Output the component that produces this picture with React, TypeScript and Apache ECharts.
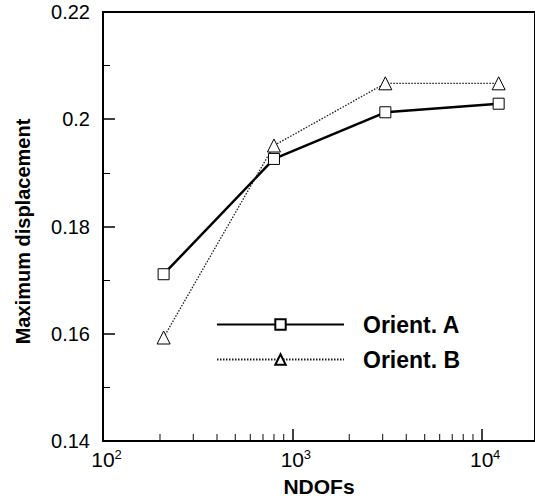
import React, { useEffect, useRef } from "react";
import * as echarts from "echarts";

const ndofs = [209, 800, 3100, 12300];
const orientA = [0.1711, 0.1926, 0.2013, 0.2029];
const orientB = [0.1593, 0.1951, 0.2067, 0.2067];
const seriesNames = ["Orient. A", "Orient. B"];
const xMinorTicks = [200, 300, 400, 500, 600, 700, 800, 900, 2000, 3000, 4000, 5000, 6000, 7000, 8000, 9000];
const yMin = 0.14;
const yMax = 0.22;
const yStep = 0.02;
const xMin = 100;
const xMax = 19140;

function exponentOf(v: number): number | null {
  const l = Math.log10(v);
  const e = Math.round(l);
  return Math.abs(l - e) > 1e-6 ? null : e;
}

export default function App() {
  const ref = useRef<HTMLDivElement>(null);
  useEffect(() => {
    if (!ref.current) return;
    const chart = echarts.init(ref.current, null, { renderer: "svg" });
    const font = "'Liberation Sans', Arial, Helvetica, sans-serif";
    const baseX = {
      type: "log",
      logBase: 10,
      min: xMin,
      max: xMax,
      splitLine: { show: false },
      minorTick: { show: false },
    };
    chart.setOption({
      animation: false,
      backgroundColor: "#fff",
      textStyle: { fontFamily: font, color: "#000" },
      grid: {
        left: 103,
        right: -5,
        top: 12,
        bottom: 60,
        show: true,
        borderColor: "#000",
        borderWidth: 2,
        backgroundColor: "transparent",
      },
      legend: {
        orient: "vertical",
        left: 216,
        top: 313,
        padding: 0,
        itemWidth: 127,
        itemHeight: 13,
        itemGap: 12,
        data: seriesNames,
        textStyle: {
          fontFamily: font,
          fontSize: 23,
          fontWeight: "bold",
          color: "#000",
          padding: [0, 0, 0, 14],
        },
      },
      xAxis: [
        {
          ...baseX,
          name: "NDOFs",
          nameLocation: "middle",
          nameGap: 35,
          nameTextStyle: { fontFamily: font, fontSize: 21, fontWeight: "bold", color: "#000" },
          axisLine: { lineStyle: { color: "#000", width: 2 } },
          axisTick: { show: true, inside: true, length: 12, lineStyle: { color: "#000", width: 1.5 } },
          axisLabel: {
            margin: 8,
            showMaxLabel: false,
            fontFamily: font,
            fontSize: 21,
            color: "#000",
            formatter: (v: number) => (exponentOf(v) === null ? "" : "10"),
          },
        },
        {
          ...baseX,
          position: "bottom",
          axisLine: { show: false },
          axisTick: { show: false },
          axisLabel: {
            margin: 7,
            showMaxLabel: false,
            fontFamily: font,
            fontSize: 13,
            color: "#000",
            padding: [0, 0, 0, 30],
            formatter: (v: number) => {
              const e = exponentOf(v);
              return e === null ? "" : String(e);
            },
          },
        },
      ],
      yAxis: {
        type: "value",
        min: yMin,
        max: yMax,
        interval: yStep,
        name: "Maximum displacement",
        nameLocation: "middle",
        nameGap: 70,
        nameTextStyle: {
          fontFamily: font,
          fontSize: 20,
          fontWeight: "bold",
          color: "#000",
          padding: [0, 10, 0, 0],
        },
        axisLine: { show: true, lineStyle: { color: "#000", width: 2 } },
        axisTick: { show: true, inside: true, length: 12, lineStyle: { color: "#000", width: 1.5 } },
        minorTick: { show: true, splitNumber: 2, length: 7, lineStyle: { color: "#000", width: 1 } },
        splitLine: { show: false },
        axisLabel: {
          margin: 13,
          fontFamily: font,
          fontSize: 20,
          color: "#000",
          formatter: (v: number) => String(parseFloat(v.toFixed(2))),
        },
      },
      series: [
        {
          name: seriesNames[0],
          type: "line",
          data: ndofs.map((x, i) => [x, orientA[i]]),
          symbol: "rect",
          symbolSize: 11,
          showAllSymbol: true,
          lineStyle: { color: "#000", width: 2.5 },
          itemStyle: { color: "#fff", borderColor: "#000", borderWidth: 1 },
          z: 3,
        },
        {
          name: seriesNames[1],
          type: "line",
          data: ndofs.map((x, i) => [x, orientB[i]]),
          symbol: "triangle",
          symbolSize: 13,
          showAllSymbol: true,
          lineStyle: { color: "#1a1a1a", width: 1.3, type: [1.5, 1.5] },
          itemStyle: { color: "#fff", borderColor: "#000", borderWidth: 1 },
          z: 3,
        },
        {
          name: "minorTicks",
          type: "scatter",
          data: xMinorTicks.map((x) => [x, yMin]),
          symbol: "rect",
          symbolSize: [1.2, 7],
          symbolOffset: [0, -3.5],
          itemStyle: { color: "#000" },
          silent: true,
          z: 2,
        },
      ],
    });
    return () => chart.dispose();
  }, []);
  return (
    <div
      ref={ref}
      style={{ position: "fixed", left: 0, top: 0, width: 535, height: 502, background: "#fff" }}
    />
  );
}
